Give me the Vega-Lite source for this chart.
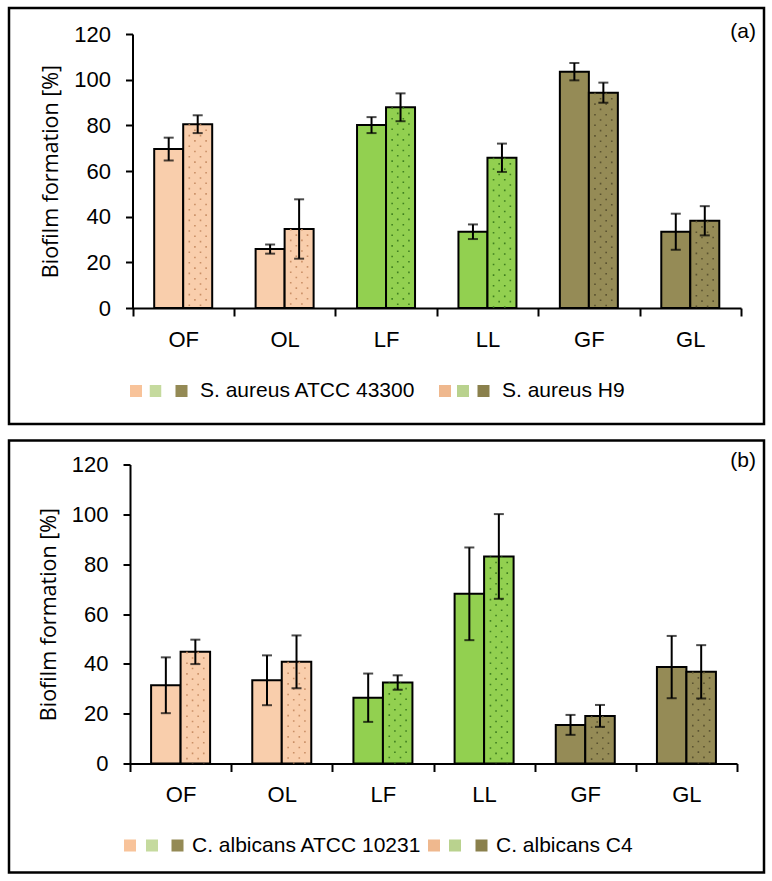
{
  "$schema": "https://vega.github.io/schema/vega-lite/v6.json",
  "background": "white",
  "padding": {"left": 7, "top": 6, "right": 0, "bottom": 0},
  "spacing": 12.5,
  "resolve": {"scale": {"fill": "independent", "strokeWidth": "independent"}, "legend": {"fill": "independent", "strokeWidth": "independent"}},
  "datasets": {
    "biofilm": [
      {"panel": "a", "cat": "OF", "grp": "O", "strain": "S. aureus ATCC 43300", "kind": "solid", "src": "reference", "v": 69.6, "err": 5.0},
      {"panel": "a", "cat": "OF", "grp": "O", "strain": "S. aureus H9", "kind": "dot", "src": "clinical", "v": 80.5, "err": 3.9},
      {"panel": "a", "cat": "OL", "grp": "O", "strain": "S. aureus ATCC 43300", "kind": "solid", "src": "reference", "v": 25.8, "err": 2.0},
      {"panel": "a", "cat": "OL", "grp": "O", "strain": "S. aureus H9", "kind": "dot", "src": "clinical", "v": 34.6, "err": 13.0},
      {"panel": "a", "cat": "LF", "grp": "L", "strain": "S. aureus ATCC 43300", "kind": "solid", "src": "reference", "v": 80.1, "err": 3.5},
      {"panel": "a", "cat": "LF", "grp": "L", "strain": "S. aureus H9", "kind": "dot", "src": "clinical", "v": 87.9, "err": 6.1},
      {"panel": "a", "cat": "LL", "grp": "L", "strain": "S. aureus ATCC 43300", "kind": "solid", "src": "reference", "v": 33.4, "err": 3.2},
      {"panel": "a", "cat": "LL", "grp": "L", "strain": "S. aureus H9", "kind": "dot", "src": "clinical", "v": 65.8, "err": 6.2},
      {"panel": "a", "cat": "GF", "grp": "G", "strain": "S. aureus ATCC 43300", "kind": "solid", "src": "reference", "v": 103.5, "err": 3.8},
      {"panel": "a", "cat": "GF", "grp": "G", "strain": "S. aureus H9", "kind": "dot", "src": "clinical", "v": 94.3, "err": 4.4},
      {"panel": "a", "cat": "GL", "grp": "G", "strain": "S. aureus ATCC 43300", "kind": "solid", "src": "reference", "v": 33.4, "err": 7.9},
      {"panel": "a", "cat": "GL", "grp": "G", "strain": "S. aureus H9", "kind": "dot", "src": "clinical", "v": 38.2, "err": 6.4},
      {"panel": "b", "cat": "OF", "grp": "O", "strain": "C. albicans ATCC 10231", "kind": "solid", "src": "reference", "v": 31.4, "err": 11.2},
      {"panel": "b", "cat": "OF", "grp": "O", "strain": "C. albicans C4", "kind": "dot", "src": "clinical", "v": 44.8, "err": 4.9},
      {"panel": "b", "cat": "OL", "grp": "O", "strain": "C. albicans ATCC 10231", "kind": "solid", "src": "reference", "v": 33.4, "err": 10.0},
      {"panel": "b", "cat": "OL", "grp": "O", "strain": "C. albicans C4", "kind": "dot", "src": "clinical", "v": 40.8, "err": 10.6},
      {"panel": "b", "cat": "LF", "grp": "L", "strain": "C. albicans ATCC 10231", "kind": "solid", "src": "reference", "v": 26.4, "err": 9.7},
      {"panel": "b", "cat": "LF", "grp": "L", "strain": "C. albicans C4", "kind": "dot", "src": "clinical", "v": 32.5, "err": 2.9},
      {"panel": "b", "cat": "LL", "grp": "L", "strain": "C. albicans ATCC 10231", "kind": "solid", "src": "reference", "v": 68.1, "err": 18.6},
      {"panel": "b", "cat": "LL", "grp": "L", "strain": "C. albicans C4", "kind": "dot", "src": "clinical", "v": 83.1, "err": 17.0},
      {"panel": "b", "cat": "GF", "grp": "G", "strain": "C. albicans ATCC 10231", "kind": "solid", "src": "reference", "v": 15.5, "err": 4.0},
      {"panel": "b", "cat": "GF", "grp": "G", "strain": "C. albicans C4", "kind": "dot", "src": "clinical", "v": 19.1, "err": 4.4},
      {"panel": "b", "cat": "GL", "grp": "G", "strain": "C. albicans ATCC 10231", "kind": "solid", "src": "reference", "v": 38.7, "err": 12.5},
      {"panel": "b", "cat": "GL", "grp": "G", "strain": "C. albicans C4", "kind": "dot", "src": "clinical", "v": 36.8, "err": 10.7}
    ]
  },
  "vconcat": [
    {
      "width": 755,
      "height": 416,
      "data": {"name": "biofilm"},
      "transform": [{"filter": {"field": "panel", "equal": "a"}}],
      "title": {"text": "(a)", "orient": "top", "anchor": "end", "frame": "group", "offset": -34, "dx": -8, "font": "Liberation Sans", "fontSize": 21, "fontWeight": "normal", "color": "black"},
      "resolve": {"scale": {"xOffset": "independent", "fill": "independent", "strokeWidth": "independent"}, "legend": {"fill": "independent", "strokeWidth": "independent"}},
      "encoding": {
        "x": {"field": "cat", "type": "nominal", "sort": ["OF", "OL", "LF", "LL", "GF", "GL"],
              "scale": {"range": [123.5, 732], "paddingInner": 0, "paddingOuter": 0},
              "axis": {"title": null, "labelAngle": 0, "tickBand": "extent", "tickSize": 8, "labelPadding": 13, "offset": -116}},
        "y": {"field": "v", "type": "quantitative",
              "scale": {"domain": [0, 120], "range": [300, 26], "nice": false},
              "axis": {"values": [0, 20, 40, 60, 80, 100, 120], "title": "Biofilm formation [%]", "titleFont": "Open Sans", "titleFontSize": 21.5, "titleFontWeight": "normal", "titleColor": "black", "titlePadding": 11, "tickSize": 7, "labelPadding": 15, "offset": -123.5}}
      },
      "layer": [
        {
          "mark": {"type": "bar", "stroke": "black", "strokeWidth": 2},
          "encoding": {
            "xOffset": {"field": "strain", "type": "nominal", "scale": {"domain": ["S. aureus ATCC 43300", "S. aureus H9"], "range": [21.7, 79.7], "paddingInner": 0, "paddingOuter": 0}},
            "fill": {"field": "grp", "type": "nominal", "scale": {"domain": ["O", "L", "G"], "range": ["#F9CEAC", "#92D050", "#958B56"]}, "legend": null}
          }
        },
        {
          "transform": [{"filter": {"field": "kind", "equal": "dot"}}],
          "mark": {"type": "rule", "strokeWidth": 1.6, "strokeDash": [1.6, 9], "strokeDashOffset": 0},
          "encoding": {
            "xOffset": {"field": "strain", "type": "nominal", "scale": {"domain": ["S. aureus ATCC 43300", "S. aureus H9"], "range": [13.3, 71.3], "paddingInner": 0, "paddingOuter": 0}},
            "y2": {"datum": 0}, "stroke": {"field": "grp", "type": "nominal", "scale": {"domain": ["O", "L", "G"], "range": ["#C98F66", "#3F7F1F", "#5A5230"]}, "legend": null}}
        },
        {
          "transform": [{"filter": {"field": "kind", "equal": "dot"}}],
          "mark": {"type": "rule", "strokeWidth": 1.6, "strokeDash": [1.6, 9], "strokeDashOffset": 5.3},
          "encoding": {
            "xOffset": {"field": "strain", "type": "nominal", "scale": {"domain": ["S. aureus ATCC 43300", "S. aureus H9"], "range": [18.9, 76.9], "paddingInner": 0, "paddingOuter": 0}},
            "y2": {"datum": 0}, "stroke": {"field": "grp", "type": "nominal", "legend": null}}
        },
        {
          "transform": [{"filter": {"field": "kind", "equal": "dot"}}],
          "mark": {"type": "rule", "strokeWidth": 1.6, "strokeDash": [1.6, 9], "strokeDashOffset": 0},
          "encoding": {
            "xOffset": {"field": "strain", "type": "nominal", "scale": {"domain": ["S. aureus ATCC 43300", "S. aureus H9"], "range": [24.5, 82.5], "paddingInner": 0, "paddingOuter": 0}},
            "y2": {"datum": 0}, "stroke": {"field": "grp", "type": "nominal", "legend": null}}
        },
        {
          "transform": [{"filter": {"field": "kind", "equal": "dot"}}],
          "mark": {"type": "rule", "strokeWidth": 1.6, "strokeDash": [1.6, 9], "strokeDashOffset": 5.3},
          "encoding": {
            "xOffset": {"field": "strain", "type": "nominal", "scale": {"domain": ["S. aureus ATCC 43300", "S. aureus H9"], "range": [30.1, 88.1], "paddingInner": 0, "paddingOuter": 0}},
            "y2": {"datum": 0}, "stroke": {"field": "grp", "type": "nominal", "legend": null}}
        },
        {
          "mark": {"type": "errorbar", "ticks": {"size": 10}, "thickness": 2, "color": "black"},
          "encoding": {
            "xOffset": {"field": "strain", "type": "nominal", "scale": {"domain": ["S. aureus ATCC 43300", "S. aureus H9"], "range": [21.7, 79.7], "paddingInner": 0, "paddingOuter": 0}},
            "yError": {"field": "err"}}
        },
        {
          "mark": {"type": "point", "shape": "square", "filled": true, "opacity": 0},
          "encoding": {
            "xOffset": {"field": "strain", "type": "nominal", "scale": {"domain": ["S. aureus ATCC 43300", "S. aureus H9"], "range": [21.7, 79.7], "paddingInner": 0, "paddingOuter": 0}},
            "fill": {"field": "kind", "type": "nominal", "scale": {"domain": ["solid", "dot"], "range": ["#F8C39A", "#EFB88E"]},
              "legend": {"orient": "none", "legendX": 121, "legendY": 371, "direction": "horizontal", "title": null, "clipHeight": 24,
                "symbolType": "square", "symbolSize": 144, "symbolStrokeColor": "#B07A50", "symbolDash": [1.5, 1.5], "symbolOpacity": 1,
                "labelExpr": "''", "labelOffset": 0, "columnPadding": 296}},
            "strokeWidth": {"field": "kind", "type": "nominal", "scale": {"domain": ["solid", "dot"], "range": [0, 1.5]},
              "legend": {"orient": "none", "legendX": 121, "legendY": 371, "direction": "horizontal", "title": null, "clipHeight": 24,
                "symbolType": "square", "symbolSize": 144, "symbolStrokeColor": "#B07A50", "symbolDash": [1.5, 1.5], "symbolOpacity": 1,
                "labelExpr": "''", "labelOffset": 0, "columnPadding": 296}}
          }
        },
        {
          "mark": {"type": "point", "shape": "square", "filled": true, "opacity": 0},
          "encoding": {
            "xOffset": {"field": "strain", "type": "nominal", "scale": {"domain": ["S. aureus ATCC 43300", "S. aureus H9"], "range": [21.7, 79.7], "paddingInner": 0, "paddingOuter": 0}},
            "fill": {"field": "src", "type": "nominal", "scale": {"domain": ["reference", "clinical"], "range": ["#C5DA9E", "#B9D28E"]},
              "legend": {"orient": "none", "legendX": 140.5, "legendY": 371, "direction": "horizontal", "title": null, "clipHeight": 24,
                "symbolType": "square", "symbolSize": 144, "symbolStrokeColor": "#5F8A3A", "symbolDash": [1.5, 1.5], "symbolOpacity": 1,
                "labelExpr": "''", "labelOffset": 0, "columnPadding": 294.5}},
            "strokeWidth": {"field": "src", "type": "nominal", "scale": {"domain": ["reference", "clinical"], "range": [0, 1.5]},
              "legend": {"orient": "none", "legendX": 140.5, "legendY": 371, "direction": "horizontal", "title": null, "clipHeight": 24,
                "symbolType": "square", "symbolSize": 144, "symbolStrokeColor": "#5F8A3A", "symbolDash": [1.5, 1.5], "symbolOpacity": 1,
                "labelExpr": "''", "labelOffset": 0, "columnPadding": 294.5}}
          }
        },
        {
          "mark": {"type": "point", "shape": "square", "filled": true, "opacity": 0},
          "encoding": {
            "xOffset": {"field": "strain", "type": "nominal", "scale": {"domain": ["S. aureus ATCC 43300", "S. aureus H9"], "range": [21.7, 79.7], "paddingInner": 0, "paddingOuter": 0}},
            "fill": {"field": "strain", "type": "nominal", "scale": {"domain": ["S. aureus ATCC 43300", "S. aureus H9"], "range": ["#948A55", "#8A804C"]},
              "legend": {"orient": "none", "legendX": 162, "legendY": 371, "direction": "horizontal", "title": null, "clipHeight": 24,
                "symbolType": "square", "symbolSize": 144, "symbolStrokeColor": "#4A4630", "symbolDash": [1.5, 1.5], "symbolOpacity": 1,
                "labelFont": "Liberation Sans", "labelFontSize": 21, "labelColor": "black", "labelOffset": 8, "columnPadding": 57, "labelLimit": 400}},
            "strokeWidth": {"field": "strain", "type": "nominal", "scale": {"domain": ["S. aureus ATCC 43300", "S. aureus H9"], "range": [0, 1.5]},
              "legend": {"orient": "none", "legendX": 162, "legendY": 371, "direction": "horizontal", "title": null, "clipHeight": 24,
                "symbolType": "square", "symbolSize": 144, "symbolStrokeColor": "#4A4630", "symbolDash": [1.5, 1.5], "symbolOpacity": 1,
                "labelFont": "Liberation Sans", "labelFontSize": 21, "labelColor": "black", "labelOffset": 8, "columnPadding": 57, "labelLimit": 400}}
          }
        }
      ]
    },
    {
      "width": 755,
      "height": 432,
      "data": {"name": "biofilm"},
      "transform": [{"filter": {"field": "panel", "equal": "b"}}],
      "title": {"text": "(b)", "orient": "top", "anchor": "end", "frame": "group", "offset": -30, "dx": -8, "font": "Liberation Sans", "fontSize": 21, "fontWeight": "normal", "color": "black"},
      "resolve": {"scale": {"xOffset": "independent", "fill": "independent", "strokeWidth": "independent"}, "legend": {"fill": "independent", "strokeWidth": "independent"}},
      "encoding": {
        "x": {"field": "cat", "type": "nominal", "sort": ["OF", "OL", "LF", "LL", "GF", "GL"],
              "scale": {"range": [121, 728], "paddingInner": 0, "paddingOuter": 0},
              "axis": {"title": null, "labelAngle": 0, "tickBand": "extent", "tickSize": 8, "labelPadding": 13, "offset": -109}},
        "y": {"field": "v", "type": "quantitative",
              "scale": {"domain": [0, 120], "range": [323, 24], "nice": false},
              "axis": {"values": [0, 20, 40, 60, 80, 100, 120], "title": "Biofilm formation [%]", "titleFont": "Open Sans", "titleFontSize": 21.5, "titleFontWeight": "normal", "titleColor": "black", "titlePadding": 11, "tickSize": 7, "labelPadding": 15, "offset": -121}}
      },
      "layer": [
        {
          "mark": {"type": "bar", "stroke": "black", "strokeWidth": 2},
          "encoding": {
            "xOffset": {"field": "strain", "type": "nominal", "scale": {"domain": ["C. albicans ATCC 10231", "C. albicans C4"], "range": [21.1, 80.1], "paddingInner": 0, "paddingOuter": 0}},
            "fill": {"field": "grp", "type": "nominal", "scale": {"domain": ["O", "L", "G"], "range": ["#F9CEAC", "#92D050", "#958B56"]}, "legend": null}
          }
        },
        {
          "transform": [{"filter": {"field": "kind", "equal": "dot"}}],
          "mark": {"type": "rule", "strokeWidth": 1.6, "strokeDash": [1.6, 9], "strokeDashOffset": 0},
          "encoding": {
            "xOffset": {"field": "strain", "type": "nominal", "scale": {"domain": ["C. albicans ATCC 10231", "C. albicans C4"], "range": [12.7, 71.7], "paddingInner": 0, "paddingOuter": 0}},
            "y2": {"datum": 0}, "stroke": {"field": "grp", "type": "nominal", "scale": {"domain": ["O", "L", "G"], "range": ["#C98F66", "#3F7F1F", "#5A5230"]}, "legend": null}}
        },
        {
          "transform": [{"filter": {"field": "kind", "equal": "dot"}}],
          "mark": {"type": "rule", "strokeWidth": 1.6, "strokeDash": [1.6, 9], "strokeDashOffset": 5.3},
          "encoding": {
            "xOffset": {"field": "strain", "type": "nominal", "scale": {"domain": ["C. albicans ATCC 10231", "C. albicans C4"], "range": [18.3, 77.3], "paddingInner": 0, "paddingOuter": 0}},
            "y2": {"datum": 0}, "stroke": {"field": "grp", "type": "nominal", "legend": null}}
        },
        {
          "transform": [{"filter": {"field": "kind", "equal": "dot"}}],
          "mark": {"type": "rule", "strokeWidth": 1.6, "strokeDash": [1.6, 9], "strokeDashOffset": 0},
          "encoding": {
            "xOffset": {"field": "strain", "type": "nominal", "scale": {"domain": ["C. albicans ATCC 10231", "C. albicans C4"], "range": [23.9, 82.9], "paddingInner": 0, "paddingOuter": 0}},
            "y2": {"datum": 0}, "stroke": {"field": "grp", "type": "nominal", "legend": null}}
        },
        {
          "transform": [{"filter": {"field": "kind", "equal": "dot"}}],
          "mark": {"type": "rule", "strokeWidth": 1.6, "strokeDash": [1.6, 9], "strokeDashOffset": 5.3},
          "encoding": {
            "xOffset": {"field": "strain", "type": "nominal", "scale": {"domain": ["C. albicans ATCC 10231", "C. albicans C4"], "range": [29.5, 88.5], "paddingInner": 0, "paddingOuter": 0}},
            "y2": {"datum": 0}, "stroke": {"field": "grp", "type": "nominal", "legend": null}}
        },
        {
          "mark": {"type": "errorbar", "ticks": {"size": 10}, "thickness": 2, "color": "black"},
          "encoding": {
            "xOffset": {"field": "strain", "type": "nominal", "scale": {"domain": ["C. albicans ATCC 10231", "C. albicans C4"], "range": [21.1, 80.1], "paddingInner": 0, "paddingOuter": 0}},
            "yError": {"field": "err"}}
        },
        {
          "mark": {"type": "point", "shape": "square", "filled": true, "opacity": 0},
          "encoding": {
            "xOffset": {"field": "strain", "type": "nominal", "scale": {"domain": ["C. albicans ATCC 10231", "C. albicans C4"], "range": [21.1, 80.1], "paddingInner": 0, "paddingOuter": 0}},
            "fill": {"field": "kind", "type": "nominal", "scale": {"domain": ["solid", "dot"], "range": ["#F8C39A", "#EFB88E"]},
              "legend": {"orient": "none", "legendX": 115, "legendY": 393, "direction": "horizontal", "title": null, "clipHeight": 24,
                "symbolType": "square", "symbolSize": 144, "symbolStrokeColor": "#B07A50", "symbolDash": [1.5, 1.5], "symbolOpacity": 1,
                "labelExpr": "''", "labelOffset": 0, "columnPadding": 291}},
            "strokeWidth": {"field": "kind", "type": "nominal", "scale": {"domain": ["solid", "dot"], "range": [0, 1.5]},
              "legend": {"orient": "none", "legendX": 115, "legendY": 393, "direction": "horizontal", "title": null, "clipHeight": 24,
                "symbolType": "square", "symbolSize": 144, "symbolStrokeColor": "#B07A50", "symbolDash": [1.5, 1.5], "symbolOpacity": 1,
                "labelExpr": "''", "labelOffset": 0, "columnPadding": 291}}
          }
        },
        {
          "mark": {"type": "point", "shape": "square", "filled": true, "opacity": 0},
          "encoding": {
            "xOffset": {"field": "strain", "type": "nominal", "scale": {"domain": ["C. albicans ATCC 10231", "C. albicans C4"], "range": [21.1, 80.1], "paddingInner": 0, "paddingOuter": 0}},
            "fill": {"field": "src", "type": "nominal", "scale": {"domain": ["reference", "clinical"], "range": ["#C5DA9E", "#B9D28E"]},
              "legend": {"orient": "none", "legendX": 137, "legendY": 393, "direction": "horizontal", "title": null, "clipHeight": 24,
                "symbolType": "square", "symbolSize": 144, "symbolStrokeColor": "#5F8A3A", "symbolDash": [1.5, 1.5], "symbolOpacity": 1,
                "labelExpr": "''", "labelOffset": 0, "columnPadding": 290}},
            "strokeWidth": {"field": "src", "type": "nominal", "scale": {"domain": ["reference", "clinical"], "range": [0, 1.5]},
              "legend": {"orient": "none", "legendX": 137, "legendY": 393, "direction": "horizontal", "title": null, "clipHeight": 24,
                "symbolType": "square", "symbolSize": 144, "symbolStrokeColor": "#5F8A3A", "symbolDash": [1.5, 1.5], "symbolOpacity": 1,
                "labelExpr": "''", "labelOffset": 0, "columnPadding": 290}}
          }
        },
        {
          "mark": {"type": "point", "shape": "square", "filled": true, "opacity": 0},
          "encoding": {
            "xOffset": {"field": "strain", "type": "nominal", "scale": {"domain": ["C. albicans ATCC 10231", "C. albicans C4"], "range": [21.1, 80.1], "paddingInner": 0, "paddingOuter": 0}},
            "fill": {"field": "strain", "type": "nominal", "scale": {"domain": ["C. albicans ATCC 10231", "C. albicans C4"], "range": ["#948A55", "#8A804C"]},
              "legend": {"orient": "none", "legendX": 158, "legendY": 393, "direction": "horizontal", "title": null, "clipHeight": 24,
                "symbolType": "square", "symbolSize": 144, "symbolStrokeColor": "#4A4630", "symbolDash": [1.5, 1.5], "symbolOpacity": 1,
                "labelFont": "Liberation Sans", "labelFontSize": 21, "labelColor": "black", "labelOffset": 4, "columnPadding": 49, "labelLimit": 400}},
            "strokeWidth": {"field": "strain", "type": "nominal", "scale": {"domain": ["C. albicans ATCC 10231", "C. albicans C4"], "range": [0, 1.5]},
              "legend": {"orient": "none", "legendX": 158, "legendY": 393, "direction": "horizontal", "title": null, "clipHeight": 24,
                "symbolType": "square", "symbolSize": 144, "symbolStrokeColor": "#4A4630", "symbolDash": [1.5, 1.5], "symbolOpacity": 1,
                "labelFont": "Liberation Sans", "labelFontSize": 21, "labelColor": "black", "labelOffset": 4, "columnPadding": 49, "labelLimit": 400}}
          }
        }
      ]
    }
  ],
  "config": {
    "view": {"stroke": "black", "strokeWidth": 2.5},
    "axis": {"grid": false, "domainColor": "black", "domainWidth": 2, "tickColor": "black", "tickWidth": 2, "labelColor": "black", "labelFont": "Liberation Sans", "labelFontSize": 22}
  }
}
